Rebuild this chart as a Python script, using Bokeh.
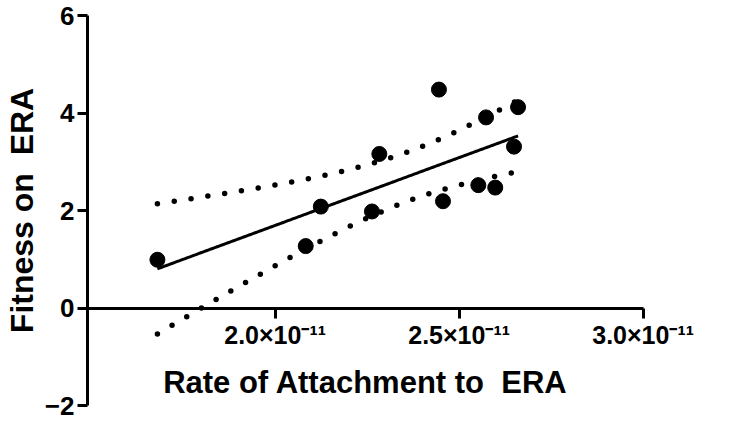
import numpy as np
from bokeh.plotting import figure
from bokeh.models import Range1d, FixedTicker, CustomJSTickFormatter, ColumnDataSource
from bokeh.embed import file_html
from bokeh.resources import INLINE

# Data
attach_rate = [1.680e-11, 2.083e-11, 2.124e-11, 2.263e-11, 2.283e-11, 2.445e-11,
               2.456e-11, 2.552e-11, 2.573e-11, 2.598e-11, 2.649e-11, 2.660e-11]
fitness = [0.99, 1.27, 2.08, 1.98, 3.16, 4.48, 2.19, 2.52, 3.91, 2.47, 3.31, 4.12]
x_ticks = [2.0e-11, 2.5e-11, 3.0e-11]
y_ticks = [-2, 0, 2, 4, 6]
T_CRIT_95_DF10 = 2.228

# Linear regression with 95% confidence bands (derived from the data)
x = np.array(attach_rate)
y = np.array(fitness)
n = len(x)
slope, intercept = np.polyfit(x, y, 1)
resid = y - (slope * x + intercept)
s = np.sqrt(np.sum(resid ** 2) / (n - 2))
sxx = np.sum((x - x.mean()) ** 2)
xf = np.linspace(x.min(), x.max(), 200)
yf = slope * xf + intercept
half = T_CRIT_95_DF10 * s * np.sqrt(1.0 / n + (xf - x.mean()) ** 2 / sxx)

fit_src = ColumnDataSource(dict(x=xf, y=yf, lo=yf - half, hi=yf + half))
pts_src = ColumnDataSource(dict(x=attach_rate, y=fitness))

p = figure(width=736, height=421, output_backend="svg", toolbar_location=None,
           x_range=Range1d(1.49e-11, 3.24e-11), y_range=Range1d(-2, 6),
           min_border_left=85, min_border_right=5, min_border_top=15,
           min_border_bottom=16)
p.outline_line_color = None
p.xgrid.grid_line_color = None
p.ygrid.grid_line_color = None
p.background_fill_color = "white"
p.border_fill_color = "white"

FONT = "Liberation Sans"

for ax in (p.xaxis[0], p.yaxis[0]):
    ax.axis_line_width = 3
    ax.axis_line_color = "black"
    ax.major_tick_line_width = 3
    ax.major_tick_line_color = "black"
    ax.major_tick_out = 10
    ax.major_tick_in = 0
    ax.minor_tick_line_color = None
    ax.major_label_text_font = FONT
    ax.major_label_text_font_style = "bold"
    ax.major_label_text_color = "black"
    ax.axis_label_text_font = FONT
    ax.axis_label_text_font_style = "bold"
    ax.axis_label_text_color = "black"
    ax.axis_label_text_font_size = "31px"

p.xaxis.fixed_location = 0
p.xaxis.bounds = (1.49e-11, 3.0e-11)
p.xaxis.ticker = FixedTicker(ticks=x_ticks)
p.xaxis.formatter = CustomJSTickFormatter(code="""
    const e = Math.floor(Math.log10(Math.abs(tick)) + 1e-9);
    const m = tick / Math.pow(10, e);
    const sup = {'-': '\u207B', '0': '\u2070', '1': '\u00B9', '2': '\u00B2', '3': '\u00B3',
                 '4': '\u2074', '5': '\u2075', '6': '\u2076', '7': '\u2077', '8': '\u2078', '9': '\u2079'};
    return m.toFixed(1) + '\u00D710' + String(e).split('').map(c => sup[c]).join('');
""")
p.xaxis.major_label_text_font_size = "25px"
p.xaxis.major_label_standoff = 3
p.xaxis.axis_label = "Rate of Attachment to \u00a0ERA"
p.xaxis.axis_label_standoff = 12

p.yaxis.ticker = FixedTicker(ticks=y_ticks)
p.yaxis.major_label_text_font_size = "26px"
p.yaxis.major_label_standoff = 3
p.yaxis.axis_label = "Fitness on \u00a0ERA"
p.yaxis.axis_label_text_font_size = "32px"
p.yaxis.axis_label_standoff = 2

p.line("x", "hi", source=fit_src, line_color="black", line_width=5.5,
       line_dash="0 17", line_cap="round")
p.line("x", "lo", source=fit_src, line_color="black", line_width=5.5,
       line_dash="0 17", line_cap="round")
p.line("x", "y", source=fit_src, line_color="black", line_width=3)
p.scatter("x", "y", source=pts_src, size=15, marker="circle",
          fill_color="black", line_color="black")

open("out.html", "w").write(file_html(p, INLINE))
